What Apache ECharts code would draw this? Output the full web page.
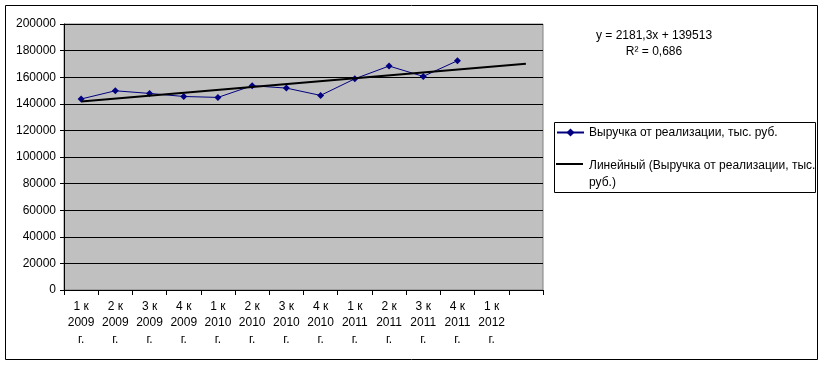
<!DOCTYPE html>
<html><head><meta charset="utf-8">
<script src="https://cdn.jsdelivr.net/npm/echarts@6/dist/echarts.min.js"></script>
<style>html,body{margin:0;padding:0;background:#fff}#c{width:824px;height:365px}</style>
</head><body><div id="c"></div>
<script>
const categories = ['1 к\n2009\nг.','2 к\n2009\nг.','3 к\n2009\nг.','4 к\n2009\nг.','1 к\n2010\nг.','2 к\n2010\nг.','3 к\n2010\nг.','4 к\n2010\nг.','1 к\n2011\nг.','2 к\n2011\nг.','3 к\n2011\nг.','4 к\n2011\nг.','1 к\n2012\nг.',''];
const revenue = [143600, 149800, 147800, 145500, 144800, 153600, 151800, 146300, 158800, 168400, 160600, 172400];
const trendIdx = [0, 13];
const trendVals = [141694, 170051];
const seriesName = 'Выручка от реализации, тыс. руб.';
const trendName = 'Линейный (Выручка от реализации, тыс. руб.)';
const eqText = 'y = 2181,3x + 139513';
const r2Text = 'R² = 0,686';

const font = 'Liberation Sans, Arial, sans-serif';
const chart = echarts.init(document.getElementById('c'), null, {renderer:'canvas'});
chart.setOption({
  animation:false,
  backgroundColor:'#fff',
  textStyle:{fontFamily:font, color:'#000'},
  grid:{left:64, top:24, right:281, bottom:75, show:true, backgroundColor:'#c0c0c0', borderColor:'#808080', borderWidth:1},
  xAxis:{type:'category', data:categories, boundaryGap:true,
    axisLine:{lineStyle:{color:'#000', width:1}},
    axisTick:{show:true, length:5, lineStyle:{color:'#000'}},
    axisLabel:{interval:0, fontSize:12, color:'#000', fontFamily:font, lineHeight:16.5, margin:8}},
  yAxis:{type:'value', min:0, max:200000, interval:20000,
    axisLine:{show:true, lineStyle:{color:'#000'}},
    axisTick:{show:true, length:4, lineStyle:{color:'#000'}},
    axisLabel:{fontSize:12, color:'#000', fontFamily:font, margin:8, formatter:function(v){return String(v);}},
    splitLine:{lineStyle:{color:'#000', width:1}}},
  legend:{orient:'vertical', left:556, top:124, padding:0, itemGap:16, itemWidth:27, itemHeight:10,
    textStyle:{fontSize:12, fontFamily:font, color:'#000', lineHeight:17},
    formatter:function(n){return n===trendName ? 'Линейный (Выручка от реализации, тыс.\nруб.)' : n;},
    data:[{name:seriesName}, {name:trendName, itemStyle:{opacity:0}, lineStyle:{opacity:0}}]},
  series:[
    {name:seriesName, type:'line', data:revenue, symbol:'diamond', symbolSize:7,
      lineStyle:{color:'#000080', width:1}, itemStyle:{color:'#000080'}, z:3},
    {name:trendName, type:'line', data:trendIdx.map((x,i)=>[x, trendVals[i]]), symbol:'none',
      lineStyle:{color:'#000', width:2}, itemStyle:{color:'#000'}, z:4}
  ],
  graphic:[
    {type:'rect', shape:{x:5.5, y:5.5, width:812, height:354}, style:{fill:'none', stroke:'#000', lineWidth:1}, silent:true, z:-10},
    {type:'rect', shape:{x:554.5, y:122.5, width:261, height:70}, style:{fill:'none', stroke:'#000', lineWidth:1}, silent:true},
    {type:'line', shape:{x1:556, y1:164, x2:583, y2:164}, style:{stroke:'#000', lineWidth:2}, silent:true},
    {type:'text', x:654, y:30, style:{text:eqText, fontSize:12, fontFamily:font, fill:'#000', align:'center'}},
    {type:'text', x:654, y:46, style:{text:r2Text, fontSize:12, fontFamily:font, fill:'#000', align:'center'}}
  ]
});
</script></body></html>
